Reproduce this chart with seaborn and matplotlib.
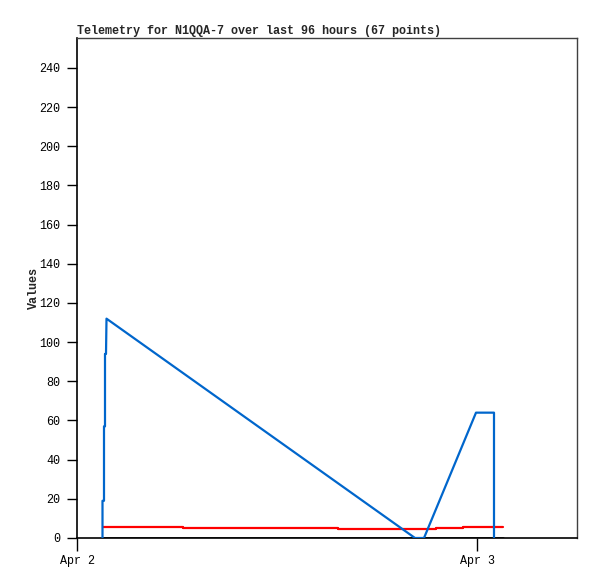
import matplotlib
matplotlib.use("Agg")
import matplotlib.pyplot as plt
import seaborn as sns
import pandas as pd

# ---- data (hours after Apr 2 00:00) ----
blue_hours = [1.53, 1.53, 1.62, 1.62, 1.68, 1.68, 1.74, 1.77, 20.28, 20.82, 23.94, 25.02, 25.02]
blue_values = [0, 19, 19, 57, 57, 94, 94, 112, 0, 0, 64, 64, 0]

red_hours = [1.53, 6.36, 15.66, 21.54, 23.16, 25.56]
red_values = [5.8, 5.3, 4.8, 5.3, 5.8, 5.8]

black_hours = [1.53, 25.56]
black_values = [0, 0]

title = "Telemetry for N1QQA-7 over last 96 hours (67 points)"
x_tick_labels = ["Apr 2", "Apr 3"]
y_ticks = list(range(0, 241, 20))

base = pd.Timestamp("2024-04-02 00:00")

def to_df(h, v):
    return pd.DataFrame({"time": [base + pd.Timedelta(hours=x) for x in h], "value": v})

sns.set_theme(style="white")
plt.rcParams["font.family"] = ["Liberation Mono", "DejaVu Sans Mono"]

fig = plt.figure(figsize=(5.97, 5.79), dpi=100)
ax = fig.add_axes([77 / 597, 1 - 538 / 579, 500 / 597, 500 / 579])

sns.lineplot(data=to_df(black_hours, black_values), x="time", y="value", ax=ax,
             color="black", linewidth=1.8, estimator=None, sort=False, zorder=3)
sns.lineplot(data=to_df(red_hours, red_values), x="time", y="value", ax=ax,
             color="#ff0000", linewidth=1.6, estimator=None, sort=False,
             drawstyle="steps-post", zorder=4)
sns.lineplot(data=to_df(blue_hours, blue_values), x="time", y="value", ax=ax,
             color="#0066cc", linewidth=1.6, estimator=None, sort=False, zorder=5)

ax.set_xlim(base, base + pd.Timedelta(hours=30))
ax.set_ylim(0, 255.3)
ax.set_yticks(y_ticks)
ax.set_yticklabels([str(t) for t in y_ticks])
ax.set_xticks([base, base + pd.Timedelta(days=1)])
ax.set_xticklabels(x_tick_labels)

ax.tick_params(axis="both", direction="out", width=1, color="black",
               labelsize=8.5, labelcolor="black")
ax.tick_params(axis="y", left=True, length=7, pad=5)
ax.tick_params(axis="x", bottom=True, length=9, pad=3)

for s in ["left", "bottom"]:
    ax.spines[s].set_color("black")
    ax.spines[s].set_linewidth(1.2)
for s in ["top", "right"]:
    ax.spines[s].set_color("#404040")
    ax.spines[s].set_linewidth(1.0)

ax.set_xlabel("")
ax.set_ylabel("Values", fontsize=8.5, fontweight="bold", labelpad=-0.5)
ax.set_title(title, fontsize=8.5, fontweight="bold", loc="left", pad=3)
ax.grid(False)

fig.savefig("out.png", dpi=100, facecolor="white")
